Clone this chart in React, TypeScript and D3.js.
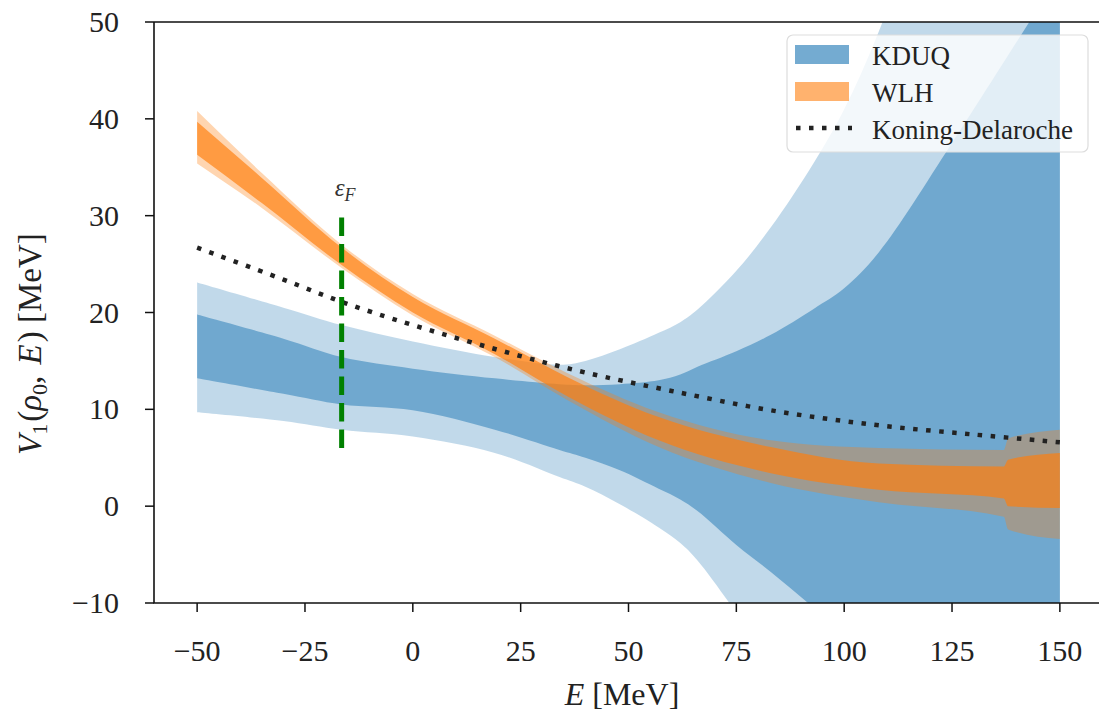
import React from 'react';
import * as d3 from 'd3';

// KDUQ bands (68% inner, 95% outer)
const kdE = [-50, -30, -16.5, 0, 19, 34, 40, 48, 57, 62, 66, 75, 83, 93, 100, 108, 125, 150];
const kdOuterHi = [23.1, 20.5, 18.7, 17.0, 15.4, 14.6, 15.0, 16.2, 17.9, 19.0, 20.3, 24.3, 28.8, 35.5, 41.0, 49, 70, 105];
const kdOuterLo = [9.7, 8.8, 7.9, 7.2, 5.5, 3.0, 2.0, 0.2, -2.2, -3.8, -5.6, -11, -16, -22, -27, -33, -48, -80];
const kdInnerHi = [19.8, 17.3, 15.4, 14.2, 13.2, 12.6, 12.5, 12.6, 13.0, 13.6, 14.4, 16.0, 17.7, 20.4, 22.5, 26.2, 37.5, 55];
const kdInnerLo = [13.2, 11.6, 10.5, 9.9, 7.9, 5.8, 5.0, 3.7, 1.8, 0.7, -0.5, -4.0, -6.8, -10.5, -13, -16, -25, -40];

// WLH bands
const wlhE = [-50, -35, -16.5, 0, 19, 36, 57, 83, 108, 137, 138, 150];
const wlhOuterHi = [40.8, 34.4, 27.0, 21.9, 17.6, 13.7, 9.7, 6.8, 6.0, 5.8, 7.0, 7.9];
const wlhOuterLo = [35.4, 30.8, 24.6, 19.7, 15.4, 10.9, 6.1, 2.4, 0.4, -1.1, -2.4, -3.4];
const wlhInnerHi = [39.7, 33.9, 26.7, 21.6, 17.3, 13.3, 9.2, 6.1, 4.4, 4.1, 4.8, 5.5];
const wlhInnerLo = [36.3, 31.3, 24.9, 20.0, 15.7, 11.3, 6.8, 3.4, 1.7, 0.8, 0.0, -0.2];

// Koning-Delaroche
const kdlE = [-50, -30, -16.5, 0, 25, 40, 60, 83, 107, 130, 150];
const kdlV = [26.7, 23.4, 21.1, 18.7, 15.5, 13.8, 11.9, 9.9, 8.4, 7.4, 6.6];

const eF = -16.5;
const eFRange = [6, 30];

const xTicks = [-50, -25, 0, 25, 50, 75, 100, 125, 150];
const yTicks = [-10, 0, 10, 20, 30, 40, 50];

const W = 1099;
const H = 711;
const left = 154, right = 1103, top = 22, bottom = 603;
const font = '"Liberation Serif", "DejaVu Serif", serif';
const blue = '#1f77b4';
const orange = '#ff7f0e';

const fmt = (t: number) => (t < 0 ? `\u2212${-t}` : `${t}`);

export default function App() {
  const x = d3.scaleLinear().domain([-60, 160]).range([left, right]);
  const y = d3.scaleLinear().domain([-10, 50]).range([bottom, top]);

  const band = (E: number[], lo: number[], hi: number[], curve: d3.CurveFactory) =>
    d3.area<number>()
      .x((i) => x(E[i]))
      .y0((i) => y(lo[i]))
      .y1((i) => y(hi[i]))
      .curve(curve)(d3.range(E.length)) || '';

  const smooth = d3.curveCatmullRom.alpha(0.5);

  const kdlPath = d3.line<number>()
    .x((i) => x(kdlE[i]))
    .y((i) => y(kdlV[i]))
    .curve(smooth)(d3.range(kdlE.length)) || '';

  const legend = [
    { label: 'KDUQ', kind: 'patch', color: blue, op: 0.62 },
    { label: 'WLH', kind: 'patch', color: orange, op: 0.6 },
    { label: 'Koning-Delaroche', kind: 'line', color: '#222', op: 1 },
  ];

  return (
    <svg width={W} height={H} style={{ position: 'absolute', left: 0, top: 0, background: '#fff' }} fontFamily={font}>
      <defs>
        <clipPath id="plot">
          <rect x={left} y={top} width={right - left} height={bottom - top} />
        </clipPath>
      </defs>
      <g clipPath="url(#plot)">
        <path d={band(kdE, kdOuterLo, kdOuterHi, smooth)} fill={blue} fillOpacity={0.28} />
        <path d={band(kdE, kdInnerLo, kdInnerHi, smooth)} fill={blue} fillOpacity={0.5} />
        <path d={band(wlhE, wlhOuterLo, wlhOuterHi, d3.curveMonotoneX)} fill={orange} fillOpacity={0.33} />
        <path d={band(wlhE, wlhInnerLo, wlhInnerHi, d3.curveMonotoneX)} fill={orange} fillOpacity={0.68} />
        <path d={kdlPath} fill="none" stroke="#222" strokeWidth={4.5} strokeDasharray="4.5 8.5" />
        <line x1={x(eF)} x2={x(eF)} y1={y(eFRange[0])} y2={y(eFRange[1])} stroke="green" strokeWidth={5} strokeDasharray="18.5 8" />
      </g>
      <text x={x(eF) - 7} y={y(32)} fontSize={25} fill="#333" fontStyle="italic">
        ε<tspan dy={5} fontSize={18}>F</tspan>
      </text>

      {/* spines */}
      <path d={`M${left},${top}H${right}M${left},${top}V${bottom}H${right}`} fill="none" stroke="#111" strokeWidth={1.6} />

      {xTicks.map((t) => (
        <g key={t}>
          <line x1={x(t)} x2={x(t)} y1={bottom} y2={bottom + 9} stroke="#111" strokeWidth={1.5} />
          <text x={x(t)} y={661} textAnchor="middle" fontSize={30} fill="#222">{fmt(t)}</text>
        </g>
      ))}
      {yTicks.map((t) => (
        <g key={t}>
          <line x1={left - 9} x2={left} y1={y(t)} y2={y(t)} stroke="#111" strokeWidth={1.5} />
          <text x={119} y={y(t) + 10} textAnchor="end" fontSize={30} fill="#222">{fmt(t)}</text>
        </g>
      ))}

      <text x={622} y={705} textAnchor="middle" fontSize={32} fill="#222">
        <tspan fontStyle="italic">E</tspan> [MeV]
      </text>
      <text transform="translate(41,455) rotate(-90)" textAnchor="start" fontSize={33} fill="#222">
        <tspan fontStyle="italic">V</tspan>
        <tspan dy={6} fontSize={22}>1</tspan>
        <tspan dy={-6} dx={2}>(</tspan>
        <tspan fontStyle="italic">ρ</tspan>
        <tspan dy={6} fontSize={22}>0</tspan>
        <tspan dy={-6}>, </tspan>
        <tspan fontStyle="italic" dx={3}>E</tspan>
        <tspan dx={2}>) [MeV]</tspan>
      </text>

      {/* legend */}
      <rect x={787} y={35} width={301} height={117} rx={6} fill="#fff" fillOpacity={0.8} stroke="#ddd" strokeWidth={1.2} />
      {legend.map((d, i) => {
        const cy = 55 + i * 37;
        return (
          <g key={d.label}>
            {d.kind === 'patch' ? (
              <rect x={795} y={cy - 10} width={54} height={19} fill={d.color} fillOpacity={d.op} />
            ) : (
              <line x1={796} x2={852} y1={cy - 1} y2={cy - 1} stroke={d.color} strokeWidth={4.5} strokeDasharray="4.5 8.5" />
            )}
            <text x={872} y={cy + 10} fontSize={27} fill="#222">{d.label}</text>
          </g>
        );
      })}
    </svg>
  );
}
